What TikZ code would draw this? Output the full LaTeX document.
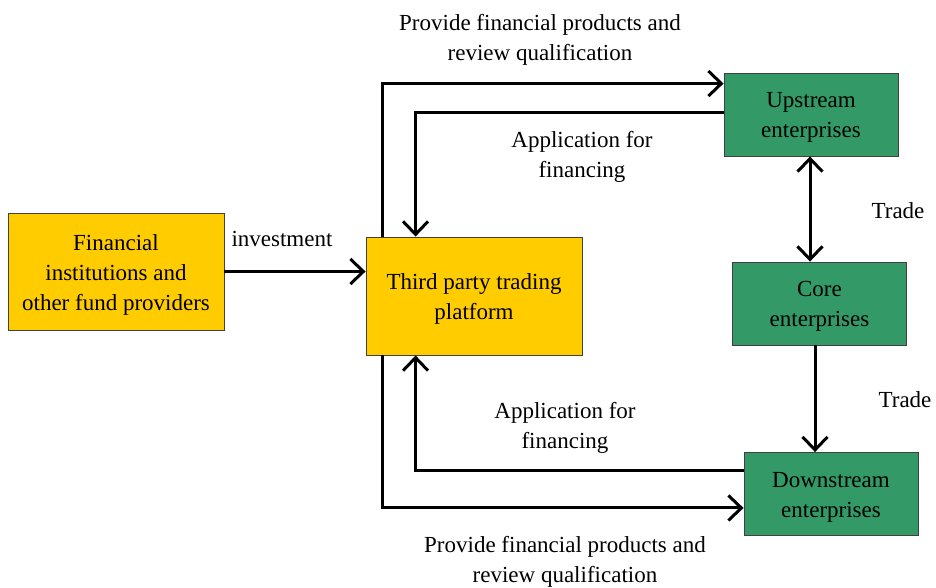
\documentclass[tikz,border=0pt]{standalone}
\usepackage{fontspec}
\setmainfont{Liberation Serif}
\usetikzlibrary{arrows.meta}
\definecolor{boxyellow}{RGB}{255,204,0}
\definecolor{boxgreen}{RGB}{51,153,102}
\begin{document}
\begin{tikzpicture}[x=1pt,y=-1pt,
  every node/.style={font=\fontsize{23}{30}\selectfont, align=center, inner sep=0pt},
  actor/.style={draw=black!75, line width=0.9pt, minimum width=#1},
  fund/.style={actor=216pt, fill=boxyellow},
  firm/.style={actor=174pt, fill=boxgreen, minimum height=83pt},
  caption/.style={label={[yshift=-3pt]center:{#1}}},
  flow/.style={line width=3pt, -{Straight Barb[length=13pt,width=25pt,line width=3pt]}},
  both/.style={line width=3pt, {Straight Barb[length=13pt,width=25pt,line width=3pt]}-{Straight Barb[length=13pt,width=25pt,line width=3pt]}},
  lbl/.style={}]
  \useasboundingbox (0,0) rectangle (936,587);

  % boxes, each with its caption set slightly below the centre
  \node[fund, minimum height=117pt, caption={Financial\\institutions and\\other fund providers}] (fin) at (116,271.5) {};
  \node[fund, minimum height=118pt, caption={Third party trading\\platform}] (plat) at (474,296) {};
  \node[firm, caption={Upstream\\enterprises}] (up) at (811,114.5) {};
  \node[firm, caption={Core\\enterprises}] (core) at (819.5,303.5) {};
  \node[firm, caption={Downstream\\enterprises}] (down) at (831,494) {};

  % investment
  \draw[flow] (fin.east) -- (fin.east -| plat.west);
  \node[lbl] (linv) at (282,238.5) {investment};

  % platform <-> upstream
  \draw[flow] ([xshift=17pt]plat.north west) |- ([yshift=-11pt]up.north west);
  \draw[flow] ([yshift=-40pt]up.north west) -| ([xshift=50pt]plat.north west);
  \node[lbl] (lprovup) at (540,40) {Provide financial products and\\review qualification};
  \node[lbl] (lappup) at (582,157) {Application for\\financing};

  % platform <-> downstream
  \draw[flow] ([yshift=-18pt]down.north west) -| ([xshift=50pt]plat.south west);
  \draw[flow] ([xshift=17pt]plat.south west) |- ([yshift=28pt]down.south west);
  \node[lbl] (lappdn) at (565,428) {Application for\\financing};
  \node[lbl] (lprovdn) at (565,562) {Provide financial products and\\review qualification};

  % trade along the chain
  \draw[both] ([xshift=-1pt]up.south) -- ([xshift=-1pt]up.south |- core.north);
  \draw[flow] ([xshift=-4.5pt]core.south) -- ([xshift=-4.5pt]core.south |- down.north);
  \node[lbl] (ltr1) at (898,210.5) {Trade};
  \node[lbl] (ltr2) at (905,399.5) {Trade};
\end{tikzpicture}
\end{document}
